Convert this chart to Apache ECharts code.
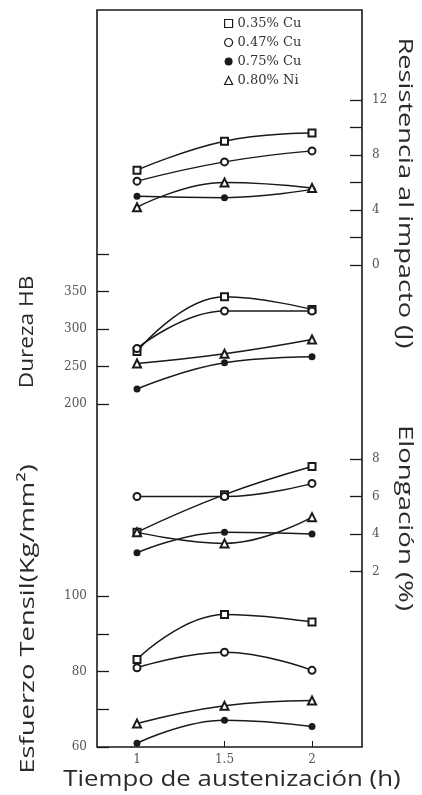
<!DOCTYPE html>
<html>
<head>
<meta charset="utf-8">
<script src="https://cdn.jsdelivr.net/npm/echarts@6/dist/echarts.min.js"></script>
<style>
html, body { margin: 0; padding: 0; background: #fff; }
#main { width: 422px; height: 795px; }
</style>
</head>
<body>
<div id="main"></div>
<script>
// tiempo de austenizacion (h)
var times = [1, 1.5, 2];
var alloys = ['0.35% Cu', '0.47% Cu', '0.75% Cu', '0.80% Ni'];

// resistencia al impacto (J)
var impactCu035 = [6.9, 9.0, 9.6];
var impactCu047 = [6.1, 7.5, 8.3];
var impactCu075 = [5.0, 4.9, 5.5];
var impactNi080 = [4.2, 6.0, 5.6];

// dureza HB
var hbCu035 = [270, 343, 326];
var hbCu047 = [274, 324, 324];
var hbCu075 = [220, 255, 263];
var hbNi080 = [254, 267, 286];

// elongacion (%)
var elCu035 = [4.1, 6.1, 7.6];
var elCu047 = [6.0, 6.0, 6.7];
var elCu075 = [3.0, 4.1, 4.0];
var elNi080 = [4.1, 3.5, 4.9];

// esfuerzo tensil (kg/mm2)
var tsCu035 = [83.2, 95.1, 93.1];
var tsCu047 = [81.0, 85.1, 80.3];
var tsCu075 = [61.0, 67.1, 65.4];
var tsNi080 = [66.2, 70.9, 72.3];

// tick labels
var xLabels = [1, 1.5, 2];
var impactLabels = [0, 4, 8, 12];
var hbLabels = [200, 250, 300, 350];
var elLabels = [2, 4, 6, 8];
var tsLabels = [60, 80, 100];

var myChart = echarts.init(document.getElementById('main'));

var symbols = ['emptyRect', 'emptyCircle', 'circle', 'emptyTriangle'];
var sizes = [7, 7, 7, 8];
var ink = '#1a1a1a';
var tickFont = { fontFamily: 'DejaVu Serif', fontSize: 12, color: '#555' };
var titleFill = '#2a2a2a';

function pairs(vals) {
    return times.map(function (t, i) { return [t, vals[i]]; });
}

function line(k, vals, gi) {
    return {
	name : alloys[k],
	type : 'line',
	xAxisIndex : gi,
	yAxisIndex : gi,
	smooth : 0.45,
	symbol : symbols[k],
	symbolSize : sizes[k],
	lineStyle : { color : ink, width : 1.5 },
	itemStyle : { color : ink, borderWidth : 1.3 },
	z : 3,
	data : pairs(vals)
    };
}

function xAx(gi, show) {
    return {
	type : 'value',
	gridIndex : gi,
	min : 0.7714,
	max : 2.2857,
	show : show,
	axisLine : { show : false },
	splitLine : { show : false },
	axisTick : { show : true, inside : true, length : 6, customValues : xLabels, lineStyle : { color : ink } },
	axisLabel : Object.assign({ customValues : xLabels, margin : 7 }, tickFont)
    };
}

function yAx(gi, pos, min, max, step, labels) {
    return {
	type : 'value',
	gridIndex : gi,
	position : pos,
	min : min,
	max : max,
	interval : step,
	axisLine : { show : false },
	splitLine : { show : false },
	axisTick : { show : true, inside : true, length : 12, lineStyle : { color : ink, width : 1.3 } },
	axisLabel : Object.assign({ customValues : labels, margin : 10 }, tickFont)
    };
}

// axis title, stretched along the reading direction like the scan
function title(text, x, y, rot, size, stretch) {
    return {
	type : 'text', x : x, y : y, rotation : rot, scaleX : stretch,
	style : { text : text, font : size + 'px "Open Sans"', fill : titleFill, align : 'center', verticalAlign : 'middle' }
    };
}

var emptyStyle = { color : '#fff', borderColor : ink, borderWidth : 1.2 };

var option = {
    backgroundColor : '#fff',
    animation : false,
    legend : {
	orient : 'vertical',
	left : 219,
	top : 12,
	itemWidth : 8,
	itemHeight : 8,
	itemGap : 6,
	textStyle : { fontFamily : 'DejaVu Serif', fontSize : 13, color : '#333' },
	data : [
	    { name : alloys[0], icon : 'rect', itemStyle : emptyStyle },
	    { name : alloys[1], icon : 'circle', itemStyle : emptyStyle },
	    { name : alloys[2], icon : 'circle', itemStyle : { color : ink } },
	    { name : alloys[3], icon : 'triangle', itemStyle : emptyStyle }
	]
    },
    grid : [
	{ left : 97, width : 265, top : 100, height : 165 },
	{ left : 97, width : 265, top : 254, height : 150 },
	{ left : 97, width : 265, top : 459, height : 112.5 },
	{ left : 97, width : 265, top : 596, height : 151 }
    ],
    xAxis : [ xAx(0, false), xAx(1, false), xAx(2, false), xAx(3, true) ],
    yAxis : [
	yAx(0, 'right', 0, 12, 2, impactLabels),
	yAx(1, 'left', 200, 400, 50, hbLabels),
	yAx(2, 'right', 2, 8, 2, elLabels),
	yAx(3, 'left', 60, 100, 10, tsLabels)
    ],
    graphic : [
	{ type : 'rect', shape : { x : 97, y : 10, width : 265, height : 737 }, style : { fill : null, stroke : ink, lineWidth : 1.6 }, z : 10 },
	title('Resistencia al impacto (J)', 405, 193, -Math.PI / 2, 20, 1.36),
	title('Dureza HB', 27, 332, Math.PI / 2, 20, 1.13),
	title('Elongación (%)', 405, 518, -Math.PI / 2, 20, 1.38),
	title('Esfuerzo Tensil(Kg/mm²)', 28, 619, Math.PI / 2, 20, 1.37),
	title('Tiempo de austenización (h)', 232, 780, 0, 21, 1.23)
    ],
    series : [
	line(0, impactCu035, 0), line(1, impactCu047, 0), line(2, impactCu075, 0), line(3, impactNi080, 0),
	line(0, hbCu035, 1), line(1, hbCu047, 1), line(2, hbCu075, 1), line(3, hbNi080, 1),
	line(0, elCu035, 2), line(1, elCu047, 2), line(2, elCu075, 2), line(3, elNi080, 2),
	line(0, tsCu035, 3), line(1, tsCu047, 3), line(2, tsCu075, 3), line(3, tsNi080, 3)
    ]
};
myChart.setOption(option);

window.onresize = function() {
    myChart.resize();
};
</script>
</body>
</html>
